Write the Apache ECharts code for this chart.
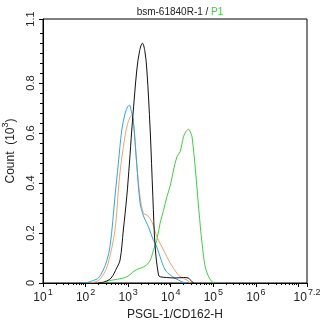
<!DOCTYPE html>
<html><head><meta charset="utf-8">
<script src="https://cdn.jsdelivr.net/npm/echarts/dist/echarts.min.js"></script>
<style>html,body{margin:0;padding:0;background:#fff}#c{width:322px;height:325px}</style>
</head><body><div id="c"></div>
<script>
// x values are log10 of PSGL-1/CD162-H intensity; y values are Count (10^3)
const blackX = [2.30,2.45,2.6,2.73,2.81,2.887,2.967,3.03,3.085,3.145,3.203,3.27,3.335,3.39,3.439,3.517,3.58,3.634,3.712,3.752,3.9,4.1,4.3,4.41,4.5,4.55];
const blackY = [0,0.005,0.02,0.06,0.092,0.212,0.345,0.48,0.612,0.74,0.852,0.93,0.959,0.93,0.852,0.612,0.345,0.145,0.032,0.025,0.022,0.02,0.022,0.02,0.005,0];
const blueX = [2.0,2.18,2.3,2.415,2.5,2.573,2.64,2.69,2.77,2.85,2.93,2.99,3.028,3.07,3.12,3.2,3.28,3.36,3.42,3.476,3.594,3.64,3.75,3.87,3.99,4.1,4.18,4.26,4.35];
const blueY = [0,0.01,0.02,0.052,0.09,0.145,0.25,0.345,0.479,0.612,0.68,0.705,0.712,0.69,0.652,0.479,0.32,0.268,0.245,0.225,0.17,0.159,0.105,0.052,0.032,0.019,0.012,0.005,0];
const orangeX = [2.1,2.30,2.42,2.53,2.69,2.79,2.887,2.99,3.085,3.14,3.2,3.28,3.36,3.44,3.556,3.675,3.83,3.99,4.146,4.22,4.38,4.46];
const orangeY = [0,0.01,0.035,0.079,0.212,0.412,0.545,0.639,0.672,0.612,0.479,0.345,0.279,0.272,0.245,0.185,0.132,0.079,0.039,0.025,0.012,0];
const greenX = [2.4,2.57,2.75,2.97,3.16,3.3,3.42,3.52,3.594,3.67,3.75,3.83,3.91,3.99,4.066,4.146,4.22,4.30,4.36,4.42,4.47,4.50,4.58,4.66,4.735,4.81,4.89,4.97,5.02];
const greenY = [0,0.01,0.015,0.025,0.05,0.06,0.07,0.092,0.132,0.17,0.239,0.29,0.345,0.39,0.452,0.505,0.525,0.585,0.607,0.615,0.6,0.585,0.452,0.292,0.159,0.065,0.025,0.005,0];

const xMajorTicks = [1,2,3,4,5,6,7,7.2];
const xLabelVals = [1,2,3,4,5,6,7.2];
const xLabelExps = ['1','2','3','4','5','6','7.2'];
const yMax = 1.056;
const yMajor = [0,0.2,0.4,0.6,0.8,yMax];
const yMajorLabels = ['0','0.2','0.4','0.6','0.8','1.1'];
const yMinor = [];
for (let i = 1; i <= 25; i++) { if (i % 5 !== 0 || i === 25) yMinor.push(+(i*0.04).toFixed(2)); }
const xMinor = [];
for (let d = 1; d <= 6; d++) for (let k = 2; k <= 9; k++) xMinor.push(d + Math.log10(k));

const pairs = (xs, ys) => xs.map((x, i) => [x, ys[i]]);
const FONT = 'Liberation Sans';
const chart = echarts.init(document.getElementById('c'), null, {renderer:'canvas'});
const line = (name, xs, ys, color) => ({
  name, type:'line', data:pairs(xs, ys), showSymbol:false, smooth:0.35,
  lineStyle:{color, width:1}, itemStyle:{color}, xAxisIndex:0, yAxisIndex:0, animation:false, z:3
});
chart.setOption({
  animation:false,
  title:{
    text:'{a|bsm-61840R-1 / }{g|P1}', left:175, top:2, textAlign:'center',
    textStyle:{fontWeight:'normal', rich:{a:{fontFamily:FONT,fontSize:10,fontWeight:'normal',color:'#222'},g:{fontFamily:FONT,fontSize:10,fontWeight:'normal',color:'#3ecf3e'}}}
  },
  grid:{left:43, top:19, width:264, height:264, show:true, borderColor:'#000', borderWidth:1, backgroundColor:'transparent', outerBoundsMode:'none', containLabel:false},
  xAxis:[{
    type:'value', min:1, max:7.2, position:'bottom',
    axisLine:{onZero:false, lineStyle:{color:'#000', width:1}},
    axisTick:{customValues:xMajorTicks, length:4, lineStyle:{color:'#000'}},
    axisLabel:{customValues:xLabelVals, margin:5, showMaxLabel:true, hideOverlap:false,
      formatter:(v)=>{const i=xLabelVals.findIndex(t=>Math.abs(t-v)<1e-6);return '{b|10}{s|'+(i>=0?xLabelExps[i]:'')+'}';},
      rich:{b:{fontFamily:FONT,fontSize:12,color:'#222',lineHeight:16,verticalAlign:'bottom'},s:{fontFamily:FONT,fontSize:9,color:'#222',lineHeight:16,verticalAlign:'top',padding:[0,0,0,1]}}},
    splitLine:{show:false},
    name:'PSGL-1/CD162-H', nameLocation:'middle', nameGap:25,
    nameTextStyle:{fontFamily:FONT,fontSize:12,color:'#222'}
  },{
    type:'value', min:1, max:7.2, position:'bottom', gridIndex:0,
    axisLine:{show:false}, axisLabel:{show:false}, splitLine:{show:false},
    axisTick:{customValues:xMinor, length:2, lineStyle:{color:'#000'}}
  }],
  yAxis:[{
    type:'value', min:0, max:yMax, position:'left',
    axisLine:{lineStyle:{color:'#000', width:1}},
    axisTick:{customValues:yMajor, length:4, lineStyle:{color:'#000'}},
    axisLabel:{customValues:yMajor, rotate:90, margin:7, fontFamily:FONT, fontSize:11, color:'#222', showMaxLabel:true, hideOverlap:false,
      formatter:(v)=>{const i=yMajor.findIndex(t=>Math.abs(t-v)<1e-6);return i>=0?yMajorLabels[i]:'';}},
    splitLine:{show:false},
    name:'{a|Count  (10}{s|3}{a|)}', nameLocation:'middle', nameGap:25, nameRotate:90,
    nameTextStyle:{rich:{a:{fontFamily:FONT,fontSize:12,color:'#222',lineHeight:16,verticalAlign:'bottom'},s:{fontFamily:FONT,fontSize:9,color:'#222',lineHeight:16,verticalAlign:'top'}}}
  },{
    type:'value', min:0, max:yMax, position:'left',
    axisLine:{show:false}, axisLabel:{show:false}, splitLine:{show:false},
    axisTick:{customValues:yMinor, length:3, lineStyle:{color:'#000'}}
  }],
  series:[
    line('P1', greenX, greenY, '#3ecf3e'),
    line('orange', orangeX, orangeY, '#f2a26e'),
    line('blue', blueX, blueY, '#2ea6de'),
    line('black', blackX, blackY, '#111111')
  ]
});
</script></body></html>
